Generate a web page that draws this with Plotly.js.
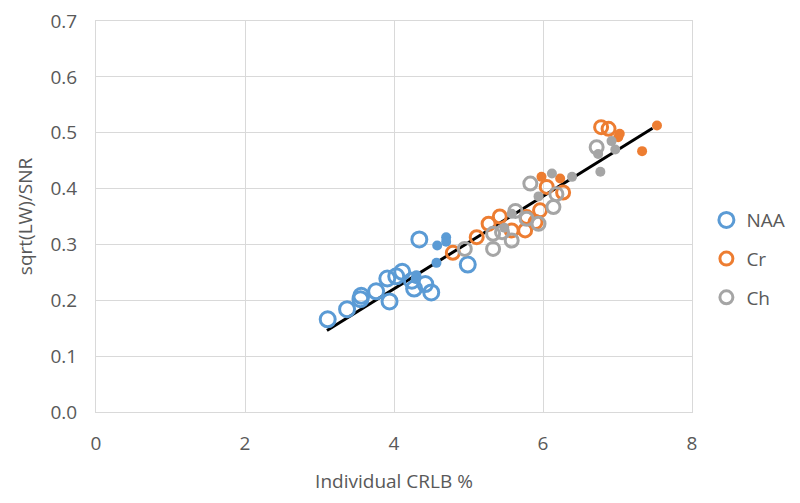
<!DOCTYPE html>
<html>
<head>
<meta charset="utf-8">
<script src="https://cdn.plot.ly/plotly-3.0.1.min.js"></script>
<style>html,body{margin:0;padding:0;background:#fff;}#chart{width:800px;height:503px;}</style>
</head>
<body>
<div id="chart"></div>
<script>
// NAA (blue)
const naaOpenX = [3.11, 3.37, 3.56, 3.55, 3.76, 3.94, 3.91, 4.11, 4.03, 4.27, 4.24, 4.42, 4.50, 4.34, 4.99];
const naaOpenY = [0.166, 0.184, 0.208, 0.202, 0.216, 0.198, 0.239, 0.251, 0.243, 0.221, 0.235, 0.229, 0.214, 0.309, 0.264];
const naaFilledX = [4.30, 4.29, 4.57, 4.58, 4.70, 4.70];
const naaFilledY = [0.245, 0.238, 0.267, 0.298, 0.313, 0.305];
// Cr (orange)
const crOpenX = [4.79, 5.11, 5.27, 5.42, 5.58, 5.76, 5.78, 5.90, 5.96, 6.05, 6.27, 6.78, 6.88];
const crOpenY = [0.285, 0.313, 0.337, 0.350, 0.325, 0.325, 0.349, 0.340, 0.361, 0.403, 0.393, 0.510, 0.507];
const crFilledX = [5.98, 6.23, 7.01, 7.03, 7.33, 7.53];
const crFilledY = [0.421, 0.418, 0.492, 0.498, 0.467, 0.513];
// Ch (gray)
const chOpenX = [4.95, 5.33, 5.33, 5.45, 5.58, 5.63, 5.78, 5.94, 6.14, 6.18, 5.83, 6.72];
const chOpenY = [0.292, 0.292, 0.319, 0.322, 0.307, 0.360, 0.346, 0.337, 0.367, 0.390, 0.409, 0.474];
const chFilledX = [5.48, 5.58, 5.94, 6.12, 6.39, 6.77, 6.74, 6.92, 6.97];
const chFilledY = [0.330, 0.355, 0.386, 0.427, 0.421, 0.430, 0.462, 0.485, 0.470];
// Trend line
const trendX = [3.1, 7.47];
const trendY = [0.146, 0.508];

const seriesNames = ['NAA', 'Cr', 'Ch'];
const colors = ['#5B9BD5', '#ED7D31', '#A5A5A5'];

const traces = [];
traces.push({x: trendX, y: trendY, mode: 'lines', type: 'scatter', line: {color: '#000', width: 3}, showlegend: false, hoverinfo: 'skip'});
const openSets = [[naaOpenX, naaOpenY], [crOpenX, crOpenY], [chOpenX, chOpenY]];
const filledSets = [[naaFilledX, naaFilledY], [crFilledX, crFilledY], [chFilledX, chFilledY]];
const openSizes = [15, 13, 13];
for (let i = 0; i < 3; i++) {
  traces.push({x: filledSets[i][0], y: filledSets[i][1], mode: 'markers', type: 'scatter', name: seriesNames[i],
    legendgroup: seriesNames[i], showlegend: false,
    marker: {symbol: 'circle', size: 10, color: colors[i], line: {width: 0}}});
  traces.push({x: openSets[i][0], y: openSets[i][1], mode: 'markers', type: 'scatter', name: seriesNames[i],
    legendgroup: seriesNames[i], showlegend: true,
    marker: {symbol: 'circle', size: openSizes[i], color: 'rgba(255,255,255,0)', line: {width: 3, color: colors[i]}}});
}

const layout = {
  width: 800, height: 503,
  margin: {l: 96, r: 108, t: 21, b: 91},
  paper_bgcolor: '#fff', plot_bgcolor: '#fff',
  font: {family: 'Open Sans, sans-serif', color: '#595959', size: 18},
  xaxis: {range: [0, 8], tickvals: [0, 2, 4, 6, 8], ticktext: ['0', '2', '4', '6', '8'],
    showgrid: true, gridcolor: '#d9d9d9', gridwidth: 1, zeroline: false,
    showline: true, linecolor: '#d9d9d9', mirror: true, ticks: '', ticklabelstandoff: 14,
    tickfont: {size: 19, color: '#595959'},
    title: {text: 'Individual CRLB %', font: {size: 19, color: '#595959'}, standoff: 19}},
  yaxis: {range: [0, 0.7], tickvals: [0, 0.1, 0.2, 0.3, 0.4, 0.5, 0.6, 0.7],
    ticktext: ['0.0', '0.1', '0.2', '0.3', '0.4', '0.5', '0.6', '0.7'],
    showgrid: true, gridcolor: '#d9d9d9', gridwidth: 1, zeroline: false,
    showline: true, linecolor: '#d9d9d9', mirror: true, ticks: '', ticklabelstandoff: 14,
    tickfont: {size: 19, color: '#595959'},
    title: {text: 'sqrt(LW)/SNR', font: {size: 19, color: '#595959'}, standoff: 12}},
  legend: {xref: 'container', yref: 'container', x: 0.883, xanchor: 'left', y: 0.485, yanchor: 'middle',
    font: {size: 19, color: '#595959'},
    traceorder: 'grouped', tracegroupgap: 11, itemwidth: 30, bgcolor: 'rgba(0,0,0,0)'},
  showlegend: true
};

Plotly.newPlot('chart', traces, layout, {displayModeBar: false, staticPlot: true});
</script>
</body>
</html>
